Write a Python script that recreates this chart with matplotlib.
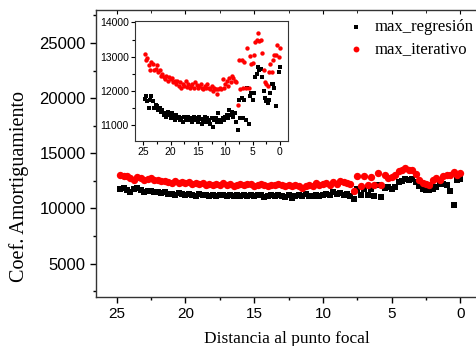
import numpy as np
import matplotlib.pyplot as plt
from matplotlib.ticker import MultipleLocator

# distancia al punto focal
dist = [24.75, 24.5, 24.25, 24.0, 23.75, 23.5, 23.25, 23.0, 22.75, 22.5,
        22.25, 22.0, 21.75, 21.5, 21.25, 21.0, 20.75, 20.5, 20.25, 20.0,
        19.75, 19.5, 19.25, 19.0, 18.75, 18.5, 18.25, 18.0, 17.75, 17.5,
        17.25, 17.0, 16.75, 16.5, 16.25, 16.0, 15.75, 15.5, 15.25, 15.0,
        14.75, 14.5, 14.25, 14.0, 13.75, 13.5, 13.25, 13.0, 12.75, 12.5,
        12.25, 12.0, 11.75, 11.5, 11.25, 11.0, 10.75, 10.5, 10.25, 10.0,
        9.75, 9.5, 9.25, 9.0, 8.75, 8.5, 8.25, 8.0, 7.75, 7.5,
        7.25, 7.0, 6.75, 6.5, 6.25, 6.0, 5.75, 5.5, 5.25, 5.0,
        4.75, 4.5, 4.25, 4.0, 3.75, 3.5, 3.25, 3.0, 2.75, 2.5,
        2.25, 2.0, 1.75, 1.5, 1.25, 1.0, 0.75, 0.5, 0.25, 0.0]

# coeficiente con el maximo por regresion
max_regresion = [11760, 11850, 11700, 11500, 11750, 11850, 11700, 11500, 11600, 11550,
                 11450, 11500, 11380, 11450, 11300, 11350, 11250, 11400, 11300, 11200,
                 11350, 11250, 11150, 11300, 11200, 11250, 11150, 11200, 11100, 11250,
                 11200, 11150, 11250, 11150, 11200, 11100, 11250, 11150, 11200, 11100,
                 11250, 11180, 11050, 11150, 11250, 11100, 11200, 11150, 11050, 11200,
                 10950, 11150, 11200, 11100, 11350, 11150, 11100, 11200, 11150, 11250,
                 11300, 11200, 11450, 11300, 11400, 11250, 11350, 11100, 10850, 11750,
                 11200, 11800, 11200, 11750, 11150, 12100, 11050, 11850, 11950, 11750,
                 11950, 12400, 12500, 12700, 12600, 12650, 12400, 12000, 11780, 11700,
                 11650, 11750, 11950, 12200, 12200, 12100, 11550, 10350, 12550, 12700]

# coeficiente con el maximo iterativo
max_iterativo = [13080, 12900, 12950, 12750, 12600, 12850, 12800, 12600, 12650, 12750,
                 12550, 12600, 12450, 12500, 12400, 12350, 12450, 12300, 12400, 12350,
                 12380, 12250, 12300, 12200, 12280, 12150, 12250, 12100, 12200, 12150,
                 12280, 12120, 12200, 12080, 12150, 12200, 12100, 12250, 12180, 12080,
                 12150, 12200, 12100, 12050, 12150, 12100, 12200, 12100, 12050, 12150,
                 12000, 12100, 12050, 11900, 12050, 12100, 12050, 12350, 12100, 12200,
                 12300, 12150, 12380, 12250, 12450, 12380, 12300, 12250, 11590, 12900,
                 12050, 12900, 12100, 12850, 12100, 13250, 12100, 13030, 12780, 12810,
                 13050, 13440, 13500, 13680, 13460, 13480, 13100, 12600, 12270, 12200,
                 12150, 12560, 12800, 12560, 12900, 13050, 13050, 13350, 13000, 13250]

tick_font = ['Liberation Sans', 'DejaVu Sans']
text_font = ['Liberation Serif', 'DejaVu Serif']

fig = plt.figure(figsize=(4.77, 3.46), dpi=100)

# grafico principal
ax = fig.add_axes([0.2013, 0.1425, 0.8014, 0.8287])
ax.scatter(dist, max_regresion, marker='s', s=20, color='black', linewidths=0,
           label='max_regresión')
ax.scatter(dist, max_iterativo, marker='o', s=28, color='red', linewidths=0,
           label='max_iterativo')
ax.set_xlim(26.5, -1.3)
ax.set_ylim(2000, 28000)
ax.xaxis.set_major_locator(MultipleLocator(5))
ax.xaxis.set_minor_locator(MultipleLocator(2.5))
ax.yaxis.set_major_locator(MultipleLocator(5000))
ax.yaxis.set_minor_locator(MultipleLocator(2500))
ax.set_yticks([5000, 10000, 15000, 20000, 25000])
ax.tick_params(which='both', direction='out', top=False, right=False)
ax.tick_params(which='major', length=4, width=1)
ax.tick_params(which='minor', length=2.5, width=1)
for lab in ax.get_xticklabels():
    lab.set_family(tick_font)
    lab.set_fontsize(11)
for lab in ax.get_yticklabels():
    lab.set_family(tick_font)
    lab.set_fontsize(12)
ax.set_xlabel('Distancia al punto focal', family=text_font, fontsize=12.5, labelpad=7)
ax.set_ylabel('Coef. Amortiguamiento', family=text_font, fontsize=14.5)
ax.yaxis.set_label_coords(-0.176, 0.385)
for sp in ax.spines.values():
    sp.set_linewidth(1.0)
    sp.set_color('#333333')
# ticks hacia dentro en el borde superior
sec = ax.secondary_xaxis('top')
sec.xaxis.set_major_locator(MultipleLocator(5))
sec.xaxis.set_minor_locator(MultipleLocator(2.5))
sec.tick_params(which='both', direction='in', labeltop=False)
sec.tick_params(which='major', length=3)
sec.tick_params(which='minor', length=2)
sec.spines['top'].set_visible(False)

leg = ax.legend(loc='upper left', bbox_to_anchor=(0.62, 1.02), frameon=False,
                prop={'family': text_font, 'size': 12}, handletextpad=0.6,
                handlelength=1.0, labelspacing=0.35, markerscale=0.8)

# grafico insertado
ins = fig.add_axes([0.283, 0.5925, 0.3208, 0.3477])
ins.scatter(dist, max_regresion, marker='s', s=7, color='black', linewidths=0)
ins.scatter(dist, max_iterativo, marker='o', s=10, color='red', linewidths=0)
ins.set_xlim(26.5, -1.47)
ins.set_ylim(10540, 14050)
ins.xaxis.set_major_locator(MultipleLocator(5))
ins.xaxis.set_minor_locator(MultipleLocator(2.5))
ins.yaxis.set_major_locator(MultipleLocator(1000))
ins.yaxis.set_minor_locator(MultipleLocator(500))
ins.tick_params(which='both', direction='out', width=0.8)
ins.tick_params(which='major', length=3)
ins.tick_params(which='minor', length=2)
ins.tick_params(axis='both', pad=1.5)
for lab in ins.get_xticklabels() + ins.get_yticklabels():
    lab.set_family(tick_font)
    lab.set_fontsize(7.5)
for sp in ins.spines.values():
    sp.set_linewidth(0.8)
    sp.set_color('#333333')

plt.savefig('out.png', dpi=100)
